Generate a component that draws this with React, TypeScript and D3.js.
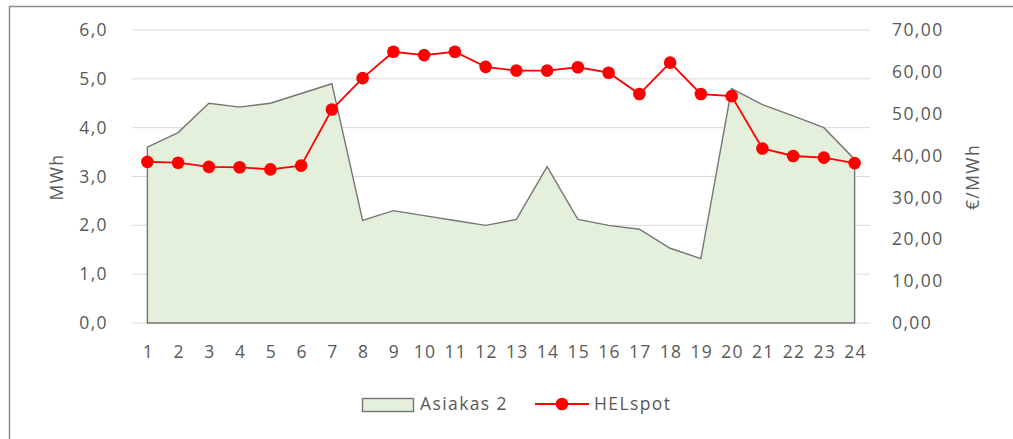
import * as React from 'react';
import * as d3 from 'd3';

const hours = ['1', '2', '3', '4', '5', '6', '7', '8', '9', '10', '11', '12', '13', '14', '15', '16', '17', '18', '19', '20', '21', '22', '23', '24'];
const asiakas2 = [3.6, 3.9, 4.5, 4.42, 4.5, 4.7, 4.9, 2.1, 2.3, 2.2, 2.1, 2.0, 2.12, 3.2, 2.12, 2.0, 1.92, 1.53, 1.32, 4.8, 4.47, 4.24, 4.0, 3.35];
const helspot = [38.5, 38.3, 37.3, 37.2, 36.7, 37.6, 51.0, 58.5, 64.8, 64.0, 64.8, 61.2, 60.3, 60.3, 61.1, 59.8, 54.7, 62.2, 54.7, 54.2, 41.7, 39.9, 39.5, 38.2];
const leftTicks = [0, 1, 2, 3, 4, 5, 6];
const rightTicks = [0, 10, 20, 30, 40, 50, 60, 70];

const FONT = '"Open Sans", sans-serif';
const TEXT = '#595959';

export default function App() {
  const ref = React.useRef<SVGSVGElement>(null);

  React.useEffect(() => {
    const svg = d3.select(ref.current);
    svg.selectAll('*').remove();

    const x = d3.scaleBand().domain(hours).range([132, 870]);
    const yL = d3.scaleLinear().domain([0, 6]).range([323, 30]);
    const yR = d3.scaleLinear().domain([0, 70]).range([323, 30]);
    const cx = (h: string) => (x(h) as number) + x.bandwidth() / 2;

    // frame
    svg.append('path').attr('d', 'M9.5,440 V6.5 H1013')
      .attr('fill', 'none').attr('stroke', '#8c8c8c').attr('stroke-width', 1.5);

    // grid
    svg.append('g').selectAll('line').data(leftTicks).enter().append('line')
      .attr('x1', 132).attr('x2', 870)
      .attr('y1', d => yL(d)).attr('y2', d => yL(d))
      .attr('stroke', '#d9d9d9').attr('stroke-width', 1);

    // area
    const area = d3.area<number>()
      .x((d, i) => cx(hours[i]))
      .y0(yL(0))
      .y1(d => yL(d));
    svg.append('path').datum(asiakas2).attr('d', area)
      .attr('fill', '#e4f0db').attr('stroke', '#767676').attr('stroke-width', 1.4);

    // line
    const line = d3.line<number>()
      .x((d, i) => cx(hours[i]))
      .y(d => yR(d));
    svg.append('path').datum(helspot).attr('d', line)
      .attr('fill', 'none').attr('stroke', '#ff0000').attr('stroke-width', 1.8);
    svg.append('g').selectAll('circle').data(helspot).enter().append('circle')
      .attr('cx', (d, i) => cx(hours[i])).attr('cy', d => yR(d)).attr('r', 6.3)
      .attr('fill', '#ff0000');

    const text = (g: any) => g.attr('font-family', FONT).attr('font-size', 17.5)
      .attr('letter-spacing', 1.4).attr('fill', TEXT);

    // left ticks
    svg.append('g').call(text).selectAll('text').data(leftTicks).enter().append('text')
      .attr('x', 108).attr('y', d => yL(d)).attr('dy', '0.35em').attr('text-anchor', 'end')
      .text(d => d3.format('.1f')(d).replace('.', ','));

    // right ticks
    svg.append('g').call(text).selectAll('text').data(rightTicks).enter().append('text')
      .attr('x', 892).attr('y', d => yR(d)).attr('dy', '0.35em')
      .text(d => d3.format('.2f')(d).replace('.', ','));

    // x ticks
    svg.append('g').call(text).selectAll('text').data(hours).enter().append('text')
      .attr('x', d => cx(d) + 1).attr('y', 352).attr('dy', '0.35em').attr('text-anchor', 'middle')
      .text(d => d);

    // axis titles
    svg.append('text').call(text)
      .attr('transform', 'translate(57,177) rotate(-90)').attr('text-anchor', 'middle').attr('dy', '0.35em')
      .text('MWh');
    svg.append('text').call(text)
      .attr('transform', 'translate(973,177) rotate(-90)').attr('text-anchor', 'middle').attr('dy', '0.35em')
      .text('€/MWh');

    // legend
    const lg = svg.append('g');
    lg.append('rect').attr('x', 362.5).attr('y', 398.5).attr('width', 51).attr('height', 13)
      .attr('fill', '#e4f0db').attr('stroke', '#767676').attr('stroke-width', 1.4);
    lg.append('text').call(text).attr('x', 420).attr('y', 404).attr('dy', '0.35em').text('Asiakas 2');
    lg.append('line').attr('x1', 535).attr('x2', 589).attr('y1', 404).attr('y2', 404)
      .attr('stroke', '#ff0000').attr('stroke-width', 1.8);
    lg.append('circle').attr('cx', 562).attr('cy', 404).attr('r', 6.3).attr('fill', '#ff0000');
    lg.append('text').call(text).attr('x', 594).attr('y', 404).attr('dy', '0.35em').text('HELspot');
  }, []);

  return (
    <div style={{ position: 'absolute', left: 0, top: 0 }}>
      <svg ref={ref} width={1013} height={439} style={{ display: 'block', background: '#fff' }}></svg>
    </div>
  );
}
